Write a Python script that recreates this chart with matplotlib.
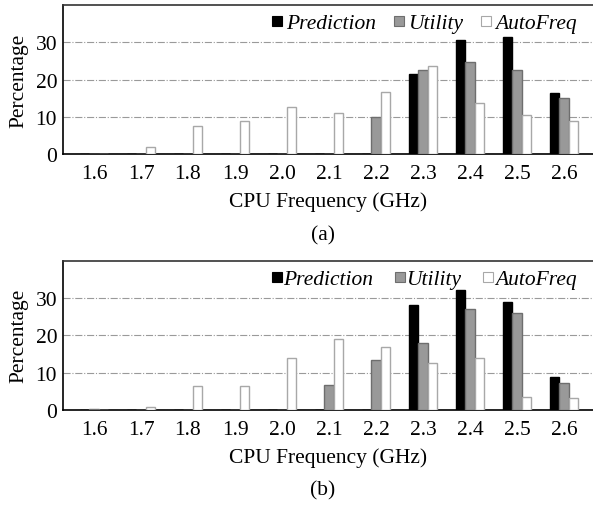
import matplotlib
matplotlib.use("Agg")
import matplotlib.pyplot as plt
import numpy as np
from matplotlib.lines import Line2D

plt.rcParams['font.family'] = ['Liberation Serif', 'DejaVu Serif']
plt.rcParams['font.size'] = 15.5

freqs = ["1.6", "1.7", "1.8", "1.9", "2.0", "2.1", "2.2", "2.3", "2.4", "2.5", "2.6"]
series_names = ["Prediction", "Utility", "AutoFreq"]

pred_a = [0, 0, 0, 0, 0, 0, 0, 21.4, 30.5, 31.4, 16.4]
util_a = [0, 0, 0, 0, 0, 0, 9.9, 22.6, 24.7, 22.6, 15.1]
auto_a = [0, 2.0, 7.6, 8.9, 12.6, 11.0, 16.7, 23.6, 13.6, 10.4, 8.9]

pred_b = [0, 0, 0, 0, 0, 0, 0, 28.0, 32.1, 29.0, 8.9]
util_b = [0.3, 0, 0, 0, 0, 6.8, 13.4, 18.0, 27.1, 26.1, 7.3]
auto_b = [0, 0.9, 6.4, 6.4, 13.9, 19.0, 16.9, 12.6, 14.0, 3.4, 3.2]

yticks = [0, 10, 20, 30]

styles = [
    dict(facecolor="black", edgecolor="black"),
    dict(facecolor="#999999", edgecolor="#6e6e6e"),
    dict(facecolor="white", edgecolor="#a8a8a8"),
]

W, H = 593, 506
fig = plt.figure(figsize=(W / 100, H / 100), dpi=100)

def make_axes(top_px, bottom_px):
    left = 62.7 / W
    width = 1 - left
    b = 1 - bottom_px / H
    h = (bottom_px - top_px) / H
    return fig.add_axes([left, b, width, h])

def draw(ax, data, leg_kw):
    x = np.arange(len(freqs))
    bw = 0.2
    for k, (vals, st) in enumerate(zip(data, styles)):
        ax.bar(x + (k - 1) * bw, vals, width=bw, linewidth=1.0, zorder=3, **st)
    ax.set_xlim(-0.666, 10.617)
    ax.set_ylim(0, 40)
    ax.set_yticks(yticks)
    ax.set_xticks(x)
    ax.set_xticklabels(freqs)
    ax.tick_params(axis="both", length=0)
    ax.tick_params(axis="x", pad=7)
    ax.tick_params(axis="y", pad=4)
    ax.yaxis.grid(True, linestyle="-.", color="#9a9a9a", linewidth=0.8)
    ax.set_axisbelow(True)
    ax.spines["right"].set_visible(False)
    ax.spines["left"].set_linewidth(1.2)
    ax.spines["bottom"].set_linewidth(1.2)
    ax.spines["top"].set_linewidth(1.2)
    ax.spines["top"].set_color("#333333")
    ax.set_xlabel("CPU Frequency (GHz)", labelpad=6)
    ax.set_ylabel("Percentage", labelpad=5)
    handles = [Line2D([], [], linestyle="none", marker="s", markersize=7,
                      markerfacecolor=st["facecolor"], markeredgecolor=st["edgecolor"],
                      markeredgewidth=0.8) for st in styles]
    ax.legend(handles, series_names, ncol=3, frameon=False, loc="upper right",
              prop=dict(style="italic", size=15.5), **leg_kw)

ax1 = make_axes(5.7, 155.3)
draw(ax1, [pred_a, util_a, auto_a],
     dict(handlelength=0.6, handletextpad=0.12,
          columnspacing=0.75, borderaxespad=0.0, bbox_to_anchor=(0.985, 1.0)))
ax2 = make_axes(261.7, 411.0)
draw(ax2, [pred_b, util_b, auto_b],
     dict(handlelength=0.6, handletextpad=0.0,
          columnspacing=0.95, borderaxespad=0.0, bbox_to_anchor=(0.985, 1.0)))

fig.text(323 / W, 1 - 236 / H, "(a)", ha="center", va="center", fontsize=15.5)
fig.text(323 / W, 1 - 491 / H, "(b)", ha="center", va="center", fontsize=15.5)

fig.savefig("out.png", dpi=100)
